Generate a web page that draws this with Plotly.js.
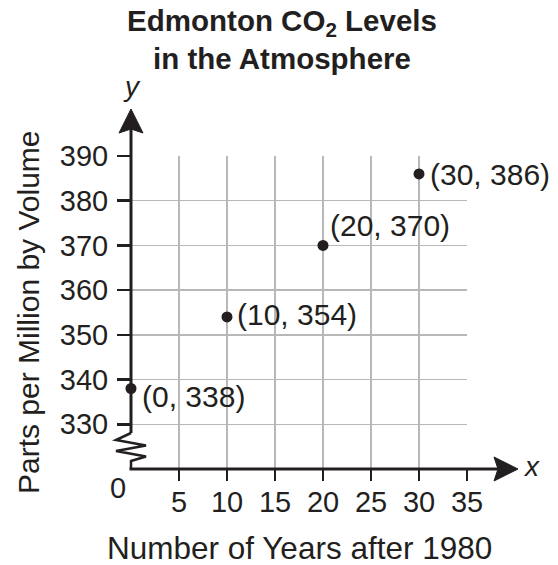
<!DOCTYPE html>
<html>
<head>
<meta charset="utf-8">
<script src="https://cdn.plot.ly/plotly-3.0.1.min.js"></script>
<style>html,body{margin:0;padding:0;background:#fff;}#chart{width:558px;height:565px;}</style>
</head>
<body>
<div id="chart"></div>
<script>
// ---- data ----
const years = [0, 10, 20, 30];
const ppm = [338, 354, 370, 386];
const xTickVals = [5, 10, 15, 20, 25, 30, 35];
const yTickVals = [330, 340, 350, 360, 370, 380, 390];
const titleText = 'Edmonton CO<sub>2</sub> Levels<br>in the Atmosphere';
const xTitle = 'Number of Years after 1980';
const yTitle = 'Parts per Million by Volume';

// ---- layout geometry (pixels) ----
const W = 558, H = 565;
const L = 131, R = 467, T = 156, B = 469;
const px = x => (x - L) / (R - L);
const py = y => (B - y) / (B - T);
const INK = '#231f20';
const FONT = 'Liberation Sans, Arial, Helvetica, sans-serif';

// label offsets (style) per point: [xshift, yshift]
const labelShift = [[9, -8], [8, 2], [5, 20], [9, -1]];

const trace = {
  x: years, y: ppm, type: 'scatter', mode: 'markers',
  marker: {size: 11, color: INK},
  cliponaxis: false, hoverinfo: 'skip', showlegend: false
};

const annotations = years.map((x, i) => ({
  x: x, y: ppm[i], xref: 'x', yref: 'y',
  text: '(' + x + ', ' + ppm[i] + ')',
  showarrow: false, xanchor: 'left', yanchor: 'middle',
  xshift: labelShift[i][0], yshift: labelShift[i][1],
  font: {family: FONT, size: 30, color: INK}
}));

function pAnn(text, x, y, opts) {
  return Object.assign({
    text: text, xref: 'paper', yref: 'paper', x: px(x), y: py(y),
    xanchor: 'center', yanchor: 'middle', showarrow: false,
    font: {family: FONT, size: 29, color: INK}
  }, opts || {});
}
annotations.push(pAnn(yTitle, 28, 312, {textangle: -90, font: {family: FONT, size: 30, color: INK}}));
annotations.push(pAnn(xTitle, 299, 548, {font: {family: FONT, size: 31.5, color: INK}}));
annotations.push(pAnn('0', 118, 488));
annotations.push(pAnn('y', 132, 87, {font: {family: FONT, size: 28, color: INK, style: 'italic'}}));
annotations.push(pAnn('x', 531, 466, {font: {family: FONT, size: 28, color: INK, style: 'italic'}}));

function pathPx(pts, close) {
  return pts.map((p, i) => (i ? 'L' : 'M') + px(p[0]).toFixed(5) + ',' + py(p[1]).toFixed(5)).join(' ') + (close ? ' Z' : '');
}
const shapes = [
  // y axis above the break
  {type: 'path', xref: 'paper', yref: 'paper', path: pathPx([[L, 433], [L, 126]]), line: {color: INK, width: 3}},
  // y arrow head
  {type: 'path', xref: 'paper', yref: 'paper', path: pathPx([[L, 109], [119, 133], [L, 129], [143, 133]], true), fillcolor: INK, line: {color: INK, width: 1}},
  // break zigzag
  {type: 'path', xref: 'paper', yref: 'paper', path: pathPx([[L, 433], [116, 440], [146, 445.5], [116, 451], [146, 456.5], [L, 461], [L, 469]]), line: {color: INK, width: 2.5}},
  // x axis
  {type: 'path', xref: 'paper', yref: 'paper', path: pathPx([[L - 1.5, B], [500, B]]), line: {color: INK, width: 3}},
  // x arrow head
  {type: 'path', xref: 'paper', yref: 'paper', path: pathPx([[518, B], [494, 457], [498, B], [494, 481]], true), fillcolor: INK, line: {color: INK, width: 1}}
];

const layout = {
  width: W, height: H,
  margin: {l: L, r: W - R, t: T, b: H - B, pad: 0},
  paper_bgcolor: '#fff', plot_bgcolor: '#fff',
  title: {
    text: titleText, xref: 'container', yref: 'container',
    x: 282 / W, xanchor: 'center', y: 1 - 31 / H, yanchor: 'top',
    font: {family: FONT, size: 29.5, color: INK, weight: 'bold'}
  },
  xaxis: {
    range: [0, 35], tickmode: 'array', tickvals: xTickVals,
    showgrid: true, gridcolor: '#b8b8b8', gridwidth: 1.5,
    zeroline: false, showline: false,
    ticks: 'outside', ticklen: 11, tickwidth: 2.5, tickcolor: INK,
    tickfont: {family: FONT, size: 29, color: INK},
    ticklabelstandoff: -4,
    fixedrange: true
  },
  yaxis: {
    range: [320, 390], tickmode: 'array', tickvals: yTickVals,
    showgrid: true, gridcolor: '#b8b8b8', gridwidth: 1.5,
    zeroline: false, showline: false,
    ticks: 'outside', ticklen: 13, tickwidth: 2.5, tickcolor: INK,
    tickfont: {family: FONT, size: 29, color: INK},
    ticklabelstandoff: 3,
    fixedrange: true
  },
  annotations: annotations,
  shapes: shapes
};

Plotly.newPlot('chart', [trace], layout, {staticPlot: true, displayModeBar: false});
</script>
</body>
</html>
